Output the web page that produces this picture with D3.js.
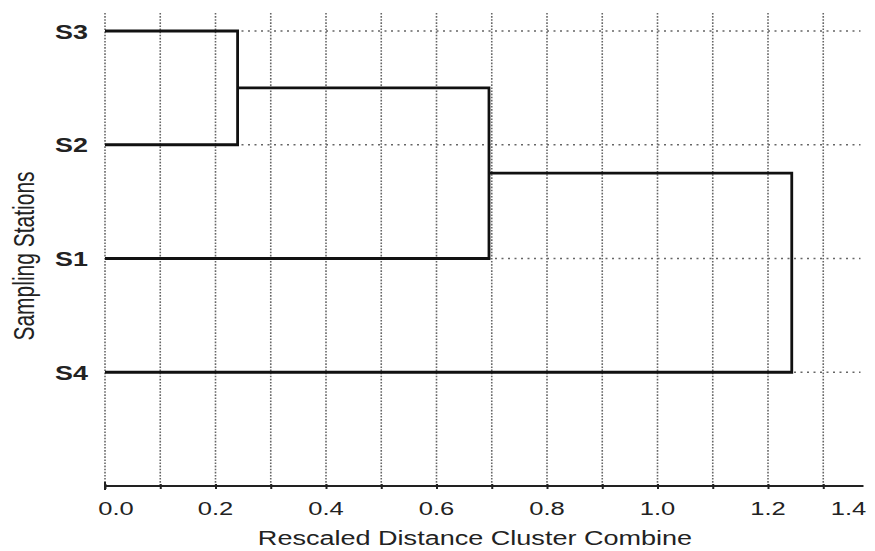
<!DOCTYPE html>
<html>
<head>
<meta charset="utf-8">
<script src="https://cdn.jsdelivr.net/npm/d3@7"></script>
<style>
  body { margin: 0; background: #fff; }
  text { font-family: "Liberation Sans", Arial, sans-serif; fill: #222; }
</style>
</head>
<body>
<svg class="chart" width="875" height="551"></svg>
<script>
// leaves top to bottom
var leaves = ["S3", "S2", "S1", "S4"];
// merge steps: left child, right child, new cluster name, height
var mergeLeft = ["S3", "C1", "C2"];
var mergeRight = ["S2", "S1", "S4"];
var mergeName = ["C1", "C2", "C3"];
var mergeHeight = [0.24, 0.695, 1.243];
var gridTicks = [0, 0.1, 0.2, 0.3, 0.4, 0.5, 0.6, 0.7, 0.8, 0.9, 1.0, 1.1, 1.2, 1.3];
var labelTicks = [0, 0.2, 0.4, 0.6, 0.8, 1.0, 1.2, 1.4];

var svg = d3.select('.chart');
var stretch = 1.38;  // text in the original is a bit wide

var x = d3.scaleLinear().domain([0, 1.4]).range([105, 878.5]);
var y = d3.scaleLinear().domain([0, 4]).range([31, 486]);

// node positions
var nodes = {};
leaves.forEach(function (d, i) { nodes[d] = {h: 0, y: y(i)}; });
mergeName.forEach(function (d, i) {
  var a = nodes[mergeLeft[i]], b = nodes[mergeRight[i]];
  nodes[d] = {h: mergeHeight[i], y: (a.y + b.y) / 2};
});

// vertical dotted grid
svg.append('g').selectAll('line')
  .data(gridTicks)
  .enter().append('line')
  .attr('x1', function (d) { return x(d); })
  .attr('x2', function (d) { return x(d); })
  .attr('y1', 13)
  .attr('y2', y(4))
  .attr('stroke', '#666')
  .attr('stroke-width', 1.6)
  .attr('stroke-dasharray', '1.6,1.5');

// horizontal dotted grid at each leaf
svg.append('g').selectAll('line')
  .data(leaves)
  .enter().append('line')
  .attr('x1', x(0))
  .attr('x2', x(1.4) - 18)
  .attr('y1', function (d) { return nodes[d].y; })
  .attr('y2', function (d) { return nodes[d].y; })
  .attr('stroke', '#666')
  .attr('stroke-width', 1.6)
  .attr('stroke-dasharray', '2,4.5');

// dendrogram links
svg.append('g').selectAll('path')
  .data(mergeName)
  .enter().append('path')
  .attr('d', function (d, i) {
    var a = nodes[mergeLeft[i]], b = nodes[mergeRight[i]], h = x(mergeHeight[i]);
    return 'M' + x(a.h) + ',' + a.y + 'H' + h + 'V' + b.y + 'H' + x(b.h);
  })
  .attr('fill', 'none')
  .attr('stroke', '#111')
  .attr('stroke-width', 2.8);

// x axis
var xAxis = d3.axisBottom(x).tickValues(gridTicks).tickSize(3).tickSizeOuter(0).tickFormat('');
var ax = svg.append('g')
  .attr('transform', 'translate(0,' + y(4) + ')')
  .call(xAxis);
ax.select('.domain').remove();
ax.selectAll('.tick line').attr('stroke', '#222').attr('stroke-width', 2).attr('y1', -2);
ax.append('line')
  .attr('x1', x(0)).attr('x2', x(1.4) - 15)
  .attr('stroke', '#222').attr('stroke-width', 2);
ax.append('line')
  .attr('x1', x(0)).attr('x2', x(0)).attr('y1', -4).attr('y2', 4)
  .attr('stroke', '#222').attr('stroke-width', 2);

svg.append('g').selectAll('text')
  .data(labelTicks)
  .enter().append('text')
  .attr('transform', function (d, i) {
    var px = x(d);
    if (i === 0) px += 11;
    if (i === labelTicks.length - 1) px -= 30;
    return 'translate(' + px + ',515) scale(' + stretch + ',1)';
  })
  .attr('text-anchor', 'middle')
  .style('font-size', '18.5px')
  .text(function (d) { return d3.format('.1f')(d); });

// leaf labels
svg.append('g').selectAll('text')
  .data(leaves)
  .enter().append('text')
  .attr('transform', function (d) {
    return 'translate(88,' + (nodes[d].y + 7.5) + ') scale(' + stretch + ',1)';
  })
  .attr('text-anchor', 'end')
  .style('font-size', '19.5px')
  .style('font-weight', 'bold')
  .text(function (d) { return d; });

// axis titles
svg.append('text')
  .attr('transform', 'translate(475,545) scale(' + stretch + ',1)')
  .attr('text-anchor', 'middle')
  .style('font-size', '19.6px')
  .text('Rescaled Distance Cluster Combine');

svg.append('text')
  .attr('transform', 'translate(34,256) scale(' + stretch + ',1) rotate(-90)')
  .attr('text-anchor', 'middle')
  .style('font-size', '21px')
  .text('Sampling Stations');
</script>
</body>
</html>
